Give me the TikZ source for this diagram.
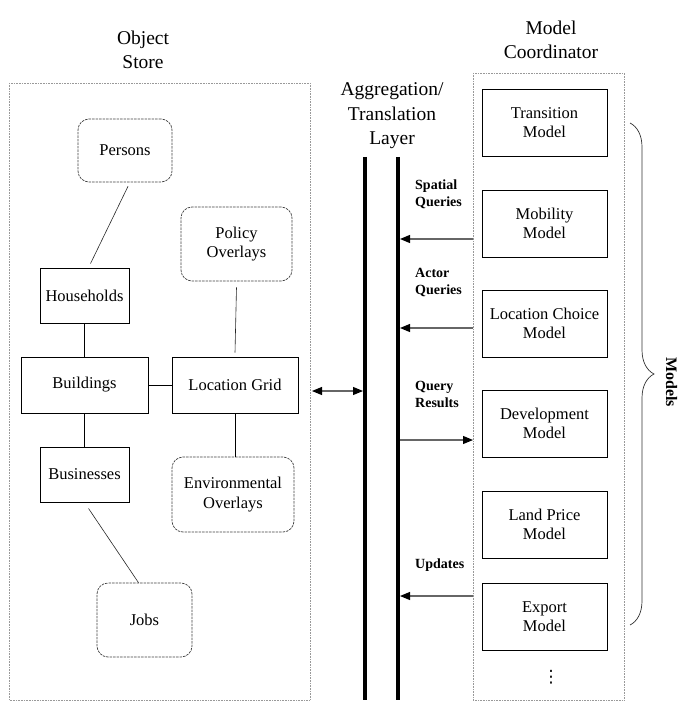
\documentclass[tikz,border=0pt]{standalone}
\usepackage{fontspec}
\setmainfont{Liberation Serif}
\newfontfamily\dgsymfont{DejaVu Sans}
\usepackage{tikz}
\usetikzlibrary{positioning}
\usetikzlibrary{arrows.meta}
\usetikzlibrary{decorations.pathreplacing}

\newcommand{\dgboxfont}{\fontsize{16.5}{19.5}\selectfont}
\newcommand{\dgtitlefont}{\fontsize{19.5}{24.5}\selectfont}
\newcommand{\dglabelfont}{\fontsize{14}{17}\selectfont\bfseries}

\tikzset{
    sqbox/.style={draw, line width=0.9pt, align=center, inner sep=0pt, font=\dgboxfont},
    rndbox/.style={draw=black!75, line width=0.7pt, dash pattern=on 2.5pt off 1pt,
        rounded corners=11pt, align=center, inner sep=0pt, font=\dgboxfont},
    modelbox/.style={sqbox, minimum width=125pt, minimum height=67pt},
    groupbox/.style={draw=black!40, line width=0.6pt, densely dotted},
    link/.style={draw, line width=0.8pt},
    thinlink/.style={draw=black!85, line width=0.6pt},
    bar/.style={line width=4.2pt},
    flow/.style={draw=black!60, line width=1.1pt, -{Triangle[length=10pt,width=8pt,black]}},
    title/.style={align=center, inner sep=0pt, font=\dgtitlefont},
    flowlabel/.style={anchor=west, align=left, inner sep=0pt, font=\dglabelfont}
}

\begin{document}
\begin{tikzpicture}[x=1pt,y=-1pt]
        \useasboundingbox (0,0) rectangle (690,711);

        % titles
        \node[title] (ostitle) at (143,50) {Object\\Store};
        \node[title] (mctitle) at (551,40) {Model\\Coordinator};
        \node[title] (agtitle) at (392,116) {Aggregation/\\Translation\\Layer};

        % group boxes
        \draw[groupbox] (9,83) rectangle (310,700);
        \draw[groupbox] (473,73) rectangle (624,700);

        % object store
        \node[rndbox, minimum width=94pt, minimum height=63pt] (persons) at (125,150.5) {Persons};
        \node[rndbox, minimum width=111pt, minimum height=74pt] (policy) at (236.5,244) {Policy\\Overlays};
        \node[sqbox, minimum width=89pt, minimum height=55pt] (households) at (84.5,295.5) {Households};
        \node[sqbox, minimum width=127pt, minimum height=56pt] (buildings) at (84.5,385) {Buildings};
        \node[sqbox, minimum width=126pt, minimum height=56pt] (locgrid) at (235,385) {Location Grid};
        \node[sqbox, minimum width=89pt, minimum height=55pt] (businesses) at (84.5,474.5) {Businesses};
        \node[rndbox, minimum width=122pt, minimum height=75pt] (environ) at (233,494.5) {Environmental\\Overlays};
        \node[rndbox, minimum width=95pt, minimum height=74pt] (jobs) at (144.5,620) {Jobs};

        \draw[thinlink] ([xshift=3pt,yshift=-4pt]persons.south) -- ([xshift=6pt,yshift=4pt]households.north);
        \draw[link] (households) -- (buildings);
        \draw[link] (buildings) -- (locgrid);
        \draw[thinlink] ([yshift=-6pt]policy.south) -- ([yshift=4pt]locgrid.north);
        \draw[link] (locgrid) -- (environ.north -| locgrid.south);
        \draw[link] (buildings) -- (businesses);
        \draw[thinlink] ([xshift=4pt,yshift=-6pt]businesses.south) -- ([xshift=-6pt]jobs.north);

        % aggregation / translation layer
        \coordinate (lbartop) at (365,157);
        \coordinate (lbarbot) at (365,700);
        \coordinate (rbartop) at (398,157);
        \coordinate (rbarbot) at (398,700);
        \draw[bar] (lbartop) -- (lbarbot);
        \draw[bar] (rbartop) -- (rbarbot);

        \coordinate (gridport) at (312,391);
        \draw[flow, {Triangle[length=10pt,width=8pt,black]}-{Triangle[length=10pt,width=8pt,black]}]
            (gridport) -- ([xshift=-2pt]gridport -| lbartop);

        % model coordinator
        \node[modelbox] (transition) at (544.5,122.5) {Transition\\Model};
        \node[modelbox] (mobility) at (544.5,223.5) {Mobility\\Model};
        \node[modelbox] (locchoice) at (544.5,323.5) {Location Choice\\Model};
        \node[modelbox] (development) at (544.5,423.5) {Development\\Model};
        \node[modelbox] (landprice) at (544.5,524.5) {Land Price\\Model};
        \node[modelbox] (export) at (544.5,616.5) {Export\\Model};
        \node[font=\fontsize{17}{17}\dgsymfont] (more) at (551,677) {⋮};

        % queries and updates
        \coordinate (spatialport) at (473,239);
        \coordinate (actorport) at (473,328);
        \coordinate (resultport) at (473,440);
        \coordinate (updateport) at (473,596);
        \draw[flow] (spatialport) -- ([xshift=2pt]spatialport -| rbartop);
        \draw[flow] (actorport) -- ([xshift=2pt]actorport -| rbartop);
        \draw[flow] ([xshift=2pt]resultport -| rbartop) -- (resultport);
        \draw[flow] (updateport) -- ([xshift=2pt]updateport -| rbartop);

        \node[flowlabel] (spatiallbl) at (415,194) {Spatial\\Queries};
        \node[flowlabel] (actorlbl) at (415,283) {Actor\\Queries};
        \node[flowlabel] (resultlbl) at (415,394) {Query\\Results};
        \node[flowlabel] (updatelbl) at (415,565) {Updates};

        % models brace
        \coordinate (bracetop) at (630,123);
        \coordinate (bracebot) at (630,625);
        \draw[black!80, line width=0.7pt, decorate, decoration={brace, amplitude=24pt}] (bracetop) -- (bracebot);
        \node[rotate=-90, font=\fontsize{16}{19}\selectfont\bfseries] (modelslbl) at (671.5,382) {Models};
    \end{tikzpicture}
\end{document}
